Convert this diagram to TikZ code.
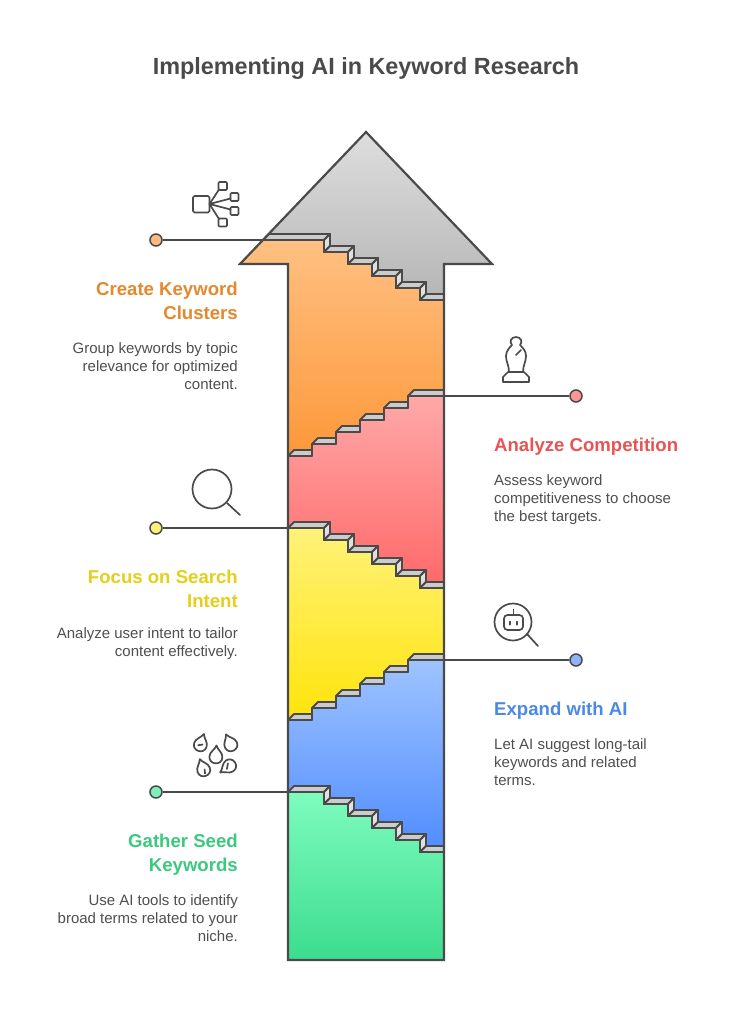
\documentclass[tikz,border=0pt]{standalone}
\usepackage{fontspec}
\setmainfont{Liberation Sans}
\definecolor{ink}{HTML}{4A4A4A}
\definecolor{textgray}{HTML}{4F4F4F}
\newcommand\desc[1]{(324,#1)--(324,{#1+12})--(348,{#1+12})--(348,{#1+24})--(372,{#1+24})--(372,{#1+36})--(396,{#1+36})--(396,{#1+48})--(420,{#1+48})--(420,{#1+60})--(444,{#1+60})}
\newcommand\asc[1]{(312,#1)--(312,{#1-12})--(336,{#1-12})--(336,{#1-24})--(360,{#1-24})--(360,{#1-36})--(384,{#1-36})--(384,{#1-48})--(408,{#1-48})--(408,{#1-60})--(444,{#1-60})}
% treads and risers of a descending flight
\newcommand\descsteps[2]{%
  \draw[tread] (#1,#2)--({#1+6},{#2-6})--(330,{#2-6})--(324,#2)--cycle;
  \foreach \k/\xa/\xb in {0/324/348,1/348/372,2/372/396,3/396/420}{%
    \draw[riser] (\xa,{#2+\k*12})--({\xa+6},{#2+\k*12-6})--({\xa+6},{#2+\k*12+6})--(\xa,{#2+\k*12+12})--cycle;
    \draw[tread] (\xa,{#2+\k*12+12})--({\xa+6},{#2+\k*12+6})--({\xb+6},{#2+\k*12+6})--(\xb,{#2+\k*12+12})--cycle;
  }
  \draw[riser] (420,{#2+48})--(426,{#2+42})--(426,{#2+54})--(420,{#2+60})--cycle;
  \draw[tread] (420,{#2+60})--(426,{#2+54})--(444,{#2+54})--(444,{#2+60})--cycle;
}
% treads of an ascending flight
\newcommand\ascsteps[1]{%
  \foreach \k/\xa/\xb in {0/288/312,1/312/336,2/336/360,3/360/384,4/384/408,5/408/444}{%
    \draw[tread] (\xa,{#1-\k*12})--({\xa+6},{#1-\k*12-6})--(\xb,{#1-\k*12-6})--(\xb,{#1-\k*12})--cycle;
  }
  \draw[stairline] (288,#1)--\asc{#1};
}
\newcommand\seedshape[4]{%
  \begin{scope}[shift={(#1,#2)},rotate=#3,icon]
    \draw (0,-9.5) .. controls (1.5,-5) and (6.5,-3) .. (6.5,2) .. controls (6.5,10.5) and (-6.5,10.5) .. (-6.5,2) .. controls (-6.5,-3) and (-1.5,-5) .. (0,-9.5)--cycle;
    #4
  \end{scope}}
\tikzset{
  outline/.style={draw=ink,line width=2.2pt,line join=miter},
  tread/.style={draw=ink,line width=1.9pt,line join=round,fill=black!20},
  riser/.style={draw=ink,line width=1.9pt,line join=round,fill=black!12},
  stairline/.style={draw=ink,line width=1.9pt,line join=round},
  link/.style={draw=ink,line width=1.6pt},
  dot/.style={circle,draw=ink,line width=1.5pt,minimum size=12pt,inner sep=0pt},
  icon/.style={draw=ink,line width=1.7pt,line cap=round,line join=round},
  head/.style={font=\fontsize{18.6}{24}\selectfont\bfseries,inner sep=0pt},
  body/.style={font=\fontsize{15}{18}\selectfont,text=textgray,inner sep=0pt},
  lefttext/.style={align=right,anchor=north east},
  righttext/.style={align=left,anchor=north west},
}
\begin{document}
\begin{tikzpicture}[x=1pt,y=-1pt]
\useasboundingbox[fill=white] (0,0) rectangle (732,1020);
\node[font=\fontsize{23.4}{28}\selectfont\bfseries,text=ink,inner sep=0pt,anchor=base] (title) at (366,74) {Implementing AI in Keyword Research};

% colour regions, painted from the tip downwards
\fill[top color=black!13,bottom color=black!29] (366,132)--(492,264)--(444,264)--(444,300)--(288,300)--(288,264)--(240,264)--cycle;
\fill[top color={rgb,255:red,255;green,192;blue,130},bottom color={rgb,255:red,253;green,152;blue,58}]
  (240,264)--(262.9,240)--\desc{240}--(444,456)--(288,456)--(288,264)--cycle;
\fill[top color={rgb,255:red,255;green,168;blue,168},bottom color={rgb,255:red,255;green,104;blue,104}]
  (288,456)--\asc{456}--(444,588)--(288,588)--cycle;
\fill[top color={rgb,255:red,255;green,242;blue,122},bottom color={rgb,255:red,255;green,228;blue,10}]
  (288,528)--\desc{528}--(444,720)--(288,720)--cycle;
\fill[top color={rgb,255:red,158;green,196;blue,255},bottom color={rgb,255:red,80;green,140;blue,255}]
  (288,720)--\asc{720}--(444,852)--(288,852)--cycle;
\fill[top color={rgb,255:red,126;green,252;blue,190},bottom color={rgb,255:red,60;green,220;blue,142}]
  (288,792)--\desc{792}--(444,960)--(288,960)--cycle;

% stairs
\descsteps{262.9}{240}
\ascsteps{456}
\descsteps{288}{528}
\ascsteps{720}
\descsteps{288}{792}

% arrow outline
\draw[outline] (366,132)--(492,264)--(444,264)--(444,960)--(288,960)--(288,264)--(240,264)--cycle;

% connectors
\node[dot,fill={rgb,255:red,255;green,184;blue,128}] (d1) at (156,240) {};
\node[dot,fill={rgb,255:red,255;green,150;blue,150}] (d2) at (576,396) {};
\node[dot,fill={rgb,255:red,255;green,240;blue,120}] (d3) at (156,528) {};
\node[dot,fill={rgb,255:red,140;green,180;blue,250}] (d4) at (576,660) {};
\node[dot,fill={rgb,255:red,125;green,240;blue,185}] (d5) at (156,792) {};
\coordinate (e1) at (263,240);
\coordinate (e2) at (444,396);
\coordinate (e3) at (288,528);
\coordinate (e4) at (444,660);
\coordinate (e5) at (288,792);
\foreach \i in {1,...,5}{\draw[link] (d\i)--(e\i);}

% texts
\node[head,lefttext,text={rgb,255:red,229;green,136;blue,46}] (h1) at (238,279) {\rule{0pt}{16pt}Create Keyword\\Clusters};
\node[body,lefttext] (b1) at (238,341) {\rule{0pt}{12pt}Group keywords by topic\\relevance for optimized\\content.};
\node[head,righttext,text={rgb,255:red,232;green,84;blue,84}] (h2) at (494,435) {\rule{0pt}{16pt}Analyze Competition};
\node[body,righttext] (b2) at (494,473) {\rule{0pt}{12pt}Assess keyword\\competitiveness to choose\\the best targets.};
\node[head,lefttext,text={rgb,255:red,228;green,207;blue,26}] (h3) at (238,567) {\rule{0pt}{16pt}Focus on Search\\Intent};
\node[body,lefttext] (b3) at (238,626) {\rule{0pt}{12pt}Analyze user intent to tailor\\content effectively.};
\node[head,righttext,text={rgb,255:red,76;green,136;blue,232}] (h4) at (494,699) {\rule{0pt}{16pt}Expand with AI};
\node[body,righttext] (b4) at (494,737) {\rule{0pt}{12pt}Let AI suggest long-tail\\keywords and related\\terms.};
\node[head,lefttext,text={rgb,255:red,60;green,201;blue,127}] (h5) at (238,831) {\rule{0pt}{16pt}Gather Seed\\Keywords};
\node[body,lefttext] (b5) at (238,893) {\rule{0pt}{12pt}Use AI tools to identify\\broad terms related to your\\niche.};

% cluster icon
\begin{scope}[icon]
  \draw[rounded corners=1.5pt] (193,196) rectangle (209.5,212.5);
  \draw[rounded corners=1pt] (218.5,182) rectangle (227,190);
  \draw[rounded corners=1pt] (230.5,193) rectangle (238.5,201);
  \draw[rounded corners=1pt] (230.5,207) rectangle (238.5,215);
  \draw[rounded corners=1pt] (218.5,218.5) rectangle (227,226.5);
  \draw (209.5,204)--(219,189.5) (209.5,204)--(230.5,198.5) (209.5,204)--(230.5,209.5) (209.5,204)--(219,219);
\end{scope}

% bishop icon
\begin{scope}[icon]
  \draw (503,382)--(529,382)--(529,377)--(524,372)--(508,372)--(503,377)--cycle;
  \draw (509,372) .. controls (509,365) and (506,362) .. (506,356) .. controls (506,351) and (510,347) .. (512,345) .. controls (509,342) and (511,337) .. (516,337) .. controls (521,337) and (523,342) .. (520,345) .. controls (523,348) and (526,351) .. (526,356) .. controls (526,362) and (523,365) .. (523,372);
  \draw (521,350)--(516,355);
\end{scope}

% magnifier icon
\begin{scope}[icon]
  \draw (212,489) circle (19.5);
  \draw (227,503)--(240,515);
\end{scope}

% robot magnifier icon
\begin{scope}[icon]
  \draw (513,622) circle (18.5);
  \draw (527,634)--(538,646);
  \draw[rounded corners=3.5pt] (504,615) rectangle (523,630);
  \draw (513.5,615)--(513.5,609.5);
  \draw[line width=2pt] (510,621.5)--(510,624.5) (517,621.5)--(517,624.5);
\end{scope}

% seed icon
\seedshape{201}{743}{-18}{\draw (-2,3)--(2,1);}
\seedshape{230}{743}{25}{}
\seedshape{216}{755}{-3}{}
\seedshape{203}{768}{20}{\draw (0,6)--(1,2);}
\seedshape{228}{767}{125}{\draw (-1,-2)--(3,2);}
\end{tikzpicture}
\end{document}
